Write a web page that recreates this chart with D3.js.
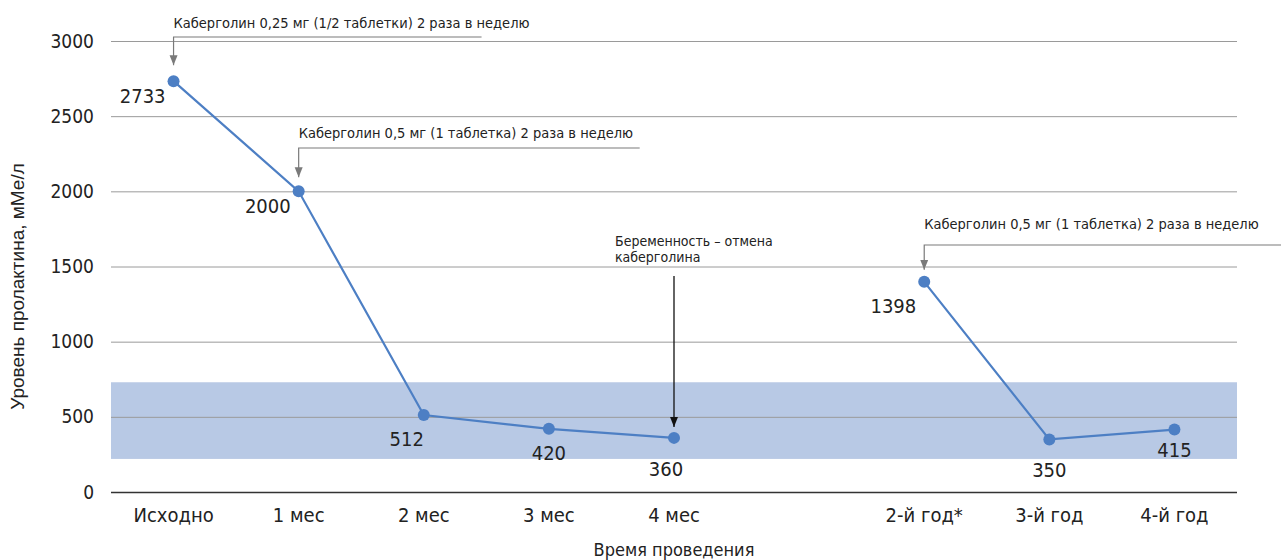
<!DOCTYPE html>
<html><head><meta charset="utf-8">
<script src="https://cdn.jsdelivr.net/npm/d3@7"></script>
<style>
body{margin:0;background:#fff;}
svg text{font-family:"Liberation Sans Narrow","DejaVu Sans Condensed","Liberation Sans",sans-serif;fill:#222;}
</style></head>
<body><svg id="c" width="1281" height="560"></svg>
<script>
// ---- data ----
const categories = ["Исходно","1 мес","2 мес","3 мес","4 мес","","2-й год*","3-й год","4-й год"];
const prolactin  = [2733, 2000, 512, 420, 360, null, 1398, 350, 415];
const yTicks = [0, 500, 1000, 1500, 2000, 2500, 3000];
const normalRange = [220, 730];
const annotationTexts = [
  ["Каберголин 0,25 мг (1/2 таблетки) 2 раза в неделю"],
  ["Каберголин 0,5 мг (1 таблетка) 2 раза в неделю"],
  ["Беременность – отмена","каберголина"],
  ["Каберголин 0,5 мг (1 таблетка) 2 раза в неделю"]
];
const annotationTargets = [0, 1, 4, 6];
const yTitle = "Уровень пролактина, мМе/л";
const xTitle = "Время проведения";

// ---- layout / style config ----
const M = {left:111, right:1237, top:41, bottom:492};
const lineColor = "#4d7fc4", bandColor = "#b8c9e5";
// label placement: [anchor, dx, dy]
const labelPlace = [["end",-8,22],["end",-8,22],["middle",-17,31],["middle",0,31],["middle",-8,38],null,["end",-8,31],["middle",0,38],["middle",0,27]];
// annotation layout
const annLayout = [
  {type:"elbow", ty:28, ly:37, len:308, gap:16},
  {type:"elbow", ty:138, ly:148, len:341, gap:14},
  {type:"vert", ty:246, ly:276, gap:11, tx:615},
  {type:"elbow", ty:229, ly:245, len:360, gap:12}
];

const svg = d3.select("#c");
const x = d3.scaleBand().domain(d3.range(categories.length)).range([M.left, M.right]);
const y = d3.scaleLinear().domain([0,3000]).range([M.bottom, M.top]);
const cx = i => x(i) + x.bandwidth()/2;

const defs = svg.append("defs");
function marker(id, color){
  defs.append("marker").attr("id",id).attr("viewBox","0 0 10 10").attr("refX",10).attr("refY",5)
    .attr("markerWidth",10).attr("markerHeight",10).attr("markerUnits","userSpaceOnUse").attr("orient","auto")
    .append("path").attr("d","M0,1 L10,5 L0,9 Z").attr("fill",color);
}
marker("ag","#7a7a7a"); marker("ab","#111");

// band
svg.append("rect").attr("x",M.left).attr("width",M.right-M.left)
  .attr("y",y(normalRange[1])).attr("height",y(normalRange[0])-y(normalRange[1])).attr("fill",bandColor);

// grid + y axis
const yAxis = d3.axisLeft(y).tickValues(yTicks).tickSize(-(M.right-M.left)).tickPadding(17).tickFormat(d3.format("d"));
const gy = svg.append("g").attr("transform",`translate(${M.left},0)`).call(yAxis);
gy.select(".domain").remove();
gy.selectAll(".tick line").attr("stroke","#9a9a9a").attr("stroke-width",1)
  .filter(d=>d===0).attr("stroke","#333").attr("stroke-width",1.6);
gy.selectAll(".tick text").attr("font-size",19).style("fill","#222");

// x axis
const xAxis = d3.axisBottom(x).tickFormat(i=>categories[i]).tickSize(0).tickPadding(16);
const gx = svg.append("g").attr("transform",`translate(0,${M.bottom})`).call(xAxis);
gx.select(".domain").remove();
gx.selectAll(".tick text").attr("font-size",20).style("fill","#222");

// titles
svg.append("text").attr("transform",`translate(24,${(M.top+M.bottom)/2+20}) rotate(-90)`)
  .attr("text-anchor","middle").attr("font-size",19).style("font-family","'Liberation Sans',sans-serif").text(yTitle);
svg.append("text").attr("x",cx(4)).attr("y",556).attr("text-anchor","middle").attr("font-size",18).text(xTitle);

// line
const line = d3.line().defined(d=>d.v!=null).x(d=>cx(d.i)).y(d=>y(d.v));
const pts = prolactin.map((v,i)=>({v,i}));
svg.append("path").datum(pts).attr("d",line).attr("fill","none").attr("stroke",lineColor).attr("stroke-width",2.2);
svg.selectAll("circle.p").data(pts.filter(d=>d.v!=null)).join("circle").attr("class","p")
  .attr("cx",d=>cx(d.i)).attr("cy",d=>y(d.v)).attr("r",6).attr("fill",lineColor);

// value labels
svg.selectAll("text.v").data(pts.filter(d=>d.v!=null)).join("text").attr("class","v")
  .attr("x",d=>cx(d.i)+labelPlace[d.i][1]).attr("y",d=>y(d.v)+labelPlace[d.i][2])
  .attr("text-anchor",d=>labelPlace[d.i][0]).attr("font-size",20).text(d=>d.v);

// annotations
annotationTexts.forEach((lines,k)=>{
  const L = annLayout[k], i = annotationTargets[k], px = cx(i), py = y(prolactin[i]);
  if(L.type==="elbow"){
    svg.append("text").attr("x",px).attr("y",L.ty).attr("font-size",14.5).text(lines[0]);
    svg.append("path").attr("d",`M${px+L.len},${L.ly} H${px} V${py-L.gap}`)
      .attr("fill","none").attr("stroke","#7a7a7a").attr("stroke-width",1.2).attr("marker-end","url(#ag)");
  } else {
    const t = svg.append("text").attr("x",L.tx).attr("y",L.ty).attr("font-size",14);
    lines.forEach((s,j)=>t.append("tspan").attr("x",L.tx).attr("dy",j?16:0).text(s));
    svg.append("line").attr("x1",px).attr("x2",px).attr("y1",L.ly).attr("y2",py-L.gap)
      .attr("stroke","#111").attr("stroke-width",1.3).attr("marker-end","url(#ab)");
  }
});
</script></body></html>
